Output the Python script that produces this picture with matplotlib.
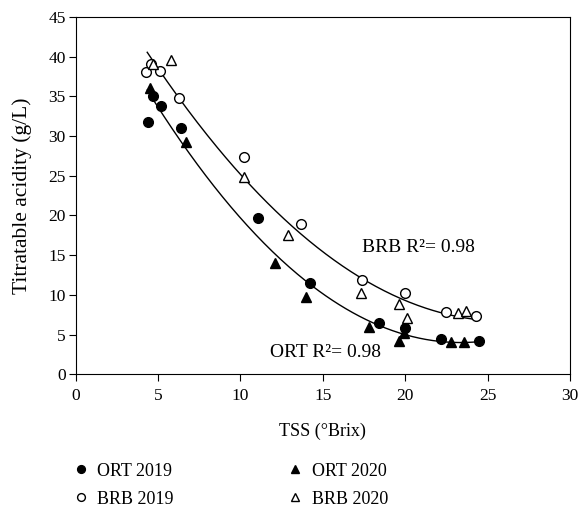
import numpy as np
import matplotlib
matplotlib.use("Agg")
import matplotlib.pyplot as plt

plt.rcParams["font.family"] = ["Liberation Serif", "DejaVu Serif"]

# ORT 2019 (filled circles)
ort19_x = [4.4, 4.7, 5.2, 6.4, 11.1, 14.2, 18.4, 20.0, 22.2, 24.5]
ort19_y = [31.7, 35.0, 33.8, 31.0, 19.7, 11.5, 6.5, 5.8, 4.5, 4.2]
# ORT 2020 (filled triangles)
ort20_x = [4.5, 6.7, 12.1, 14.0, 17.8, 19.6, 19.9, 22.8, 23.6]
ort20_y = [36.0, 29.2, 14.0, 9.7, 6.0, 4.2, 5.2, 4.1, 4.1]
# BRB 2019 (open circles)
brb19_x = [4.3, 4.6, 5.1, 6.3, 10.2, 13.7, 17.4, 20.0, 22.5, 24.3]
brb19_y = [38.0, 39.0, 38.2, 34.8, 27.3, 18.9, 11.9, 10.3, 7.8, 7.3]
# BRB 2020 (open triangles)
brb20_x = [4.7, 5.8, 10.2, 12.9, 17.3, 19.6, 20.1, 23.2, 23.7]
brb20_y = [39.0, 39.6, 24.8, 17.6, 10.3, 8.8, 7.1, 7.7, 8.0]

fig = plt.figure(figsize=(5.81, 5.08), dpi=100)
ax = fig.add_axes([0.13, 0.263, 0.851, 0.704])

ms = 7
h1, = ax.plot(ort19_x, ort19_y, "o", color="black", ms=ms, ls="none")
h2, = ax.plot(ort20_x, ort20_y, "^", color="black", ms=ms, ls="none")
h3, = ax.plot(brb19_x, brb19_y, "o", mfc="white", mec="black", ms=ms, ls="none")
h4, = ax.plot(brb20_x, brb20_y, "^", mfc="white", mec="black", ms=ms, ls="none")

# quadratic trend lines fitted to both years of each cultivar
ort_fit = np.poly1d(np.polyfit(ort19_x + ort20_x, ort19_y + ort20_y, 2))
brb_fit = np.poly1d(np.polyfit(brb19_x + brb20_x, brb19_y + brb20_y, 2))
t = np.linspace(4.35, 24.5, 200)
ax.plot(t, ort_fit(t), color="black", lw=1, zorder=1)
ax.plot(t, brb_fit(t), color="black", lw=1, zorder=1)

ax.text(17.4, 16, "BRB R²= 0.98", fontsize=14, va="center")
ax.text(11.8, 2.8, "ORT R²= 0.98", fontsize=14, va="center")

ax.set_xlim(0, 30)
ax.set_ylim(0, 45)
ax.set_xticks(range(0, 31, 5))
ax.set_yticks(range(0, 46, 5))
ax.tick_params(direction="out", length=5, labelsize=12.5, top=False, right=False)
ax.tick_params(axis="x", pad=4.5)
ax.tick_params(axis="y", pad=2)
ax.set_xlabel("TSS (°Brix)", fontsize=13, labelpad=14)
ax.set_ylabel("Titratable acidity (g/L)", fontsize=15.5, labelpad=12)

fig.legend([h1, h3, h2, h4], ["ORT 2019", "BRB 2019", "ORT 2020", "BRB 2020"],
           loc="upper left", bbox_to_anchor=(0.108, 0.107), ncol=2, frameon=False,
           fontsize=13, markerscale=0.8, handlelength=1.0, handletextpad=0.4,
           columnspacing=6.25, labelspacing=0.6, borderpad=0)

fig.savefig("out.png", dpi=100)
